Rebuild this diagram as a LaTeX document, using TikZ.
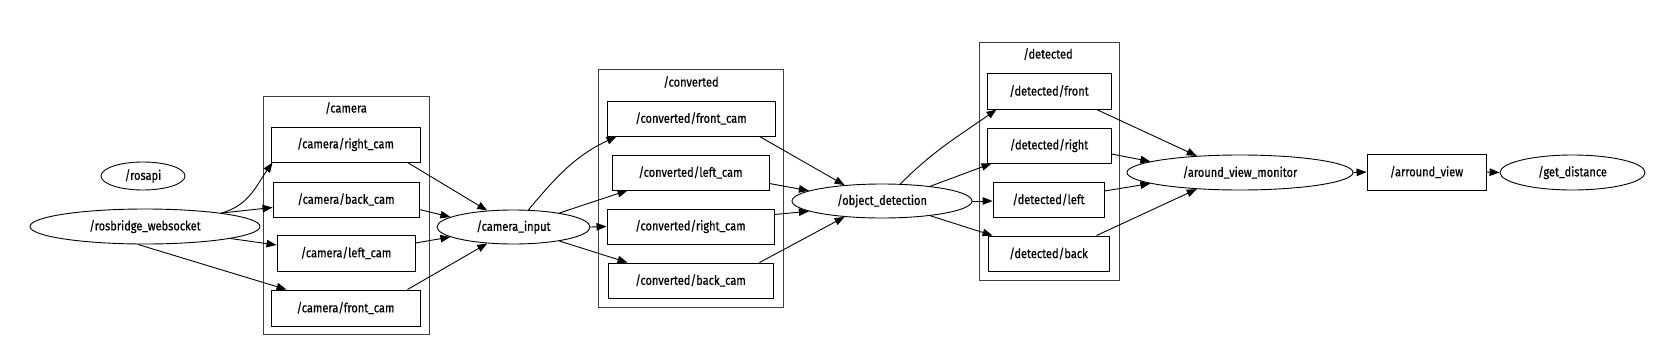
\documentclass[tikz,border=0pt]{standalone}
\usepackage{fontspec}
\setmainfont{Fira Sans}[FakeStretch=0.85,FakeBold=0.5]
\usetikzlibrary{arrows.meta,shapes.geometric}
\tikzset{
  base/.style={draw, line width=0.9pt, inner sep=0pt, font=\fontsize{13}{15}\selectfont},
  ell/.style={base, ellipse},
  rbox/.style={base, rectangle},
  clus/.style={draw=black!75, line width=0.8pt},
  clabel/.style={font=\fontsize{13}{15}\selectfont, inner sep=0pt},
  edge/.style={line width=0.9pt, -{Triangle[length=10pt,width=7.5pt]}},
}
\begin{document}
\begin{tikzpicture}[x=1pt,y=-1pt]
\useasboundingbox (0,0) rectangle (1667,351);
\fill[white] (0,0) rectangle (1667,351);
% clusters
\draw[clus] (263,96) rectangle (429,334);
\node[clabel] (lcam) at (346,108) {/camera};
\draw[clus] (598,69) rectangle (783,307);
\node[clabel] (lconv) at (691,82) {/converted};
\draw[clus] (979,42) rectangle (1119,280);
\node[clabel] (ldet) at (1048,54) {/detected};
% nodes
\node[ell, minimum width=84, minimum height=28] (rosapi) at (143,176) {/rosapi};
\node[ell, minimum width=230, minimum height=35] (rb) at (145,226.5) {/rosbridge\_websocket};
\node[rbox, minimum width=149, minimum height=35] (rc) at (345.5,144.5) {/camera/right\_cam};
\node[rbox, minimum width=146, minimum height=35] (bc) at (346,199.5) {/camera/back\_cam};
\node[rbox, minimum width=138, minimum height=36] (lc) at (346,253) {/camera/left\_cam};
\node[rbox, minimum width=149, minimum height=36] (fc) at (345.5,308) {/camera/front\_cam};
\node[ell, minimum width=153, minimum height=34] (ci) at (513.5,227) {/camera\_input};
\node[rbox, minimum width=168, minimum height=35] (cf) at (691,118.5) {/converted/front\_cam};
\node[rbox, minimum width=157, minimum height=35] (cl) at (690.5,172.5) {/converted/left\_cam};
\node[rbox, minimum width=167, minimum height=35] (cr) at (690.5,226.5) {/converted/right\_cam};
\node[rbox, minimum width=165, minimum height=35] (cb) at (690.5,280.5) {/converted/back\_cam};
\node[ell, minimum width=180, minimum height=34] (od) at (882,201) {/object\_detection};
\node[rbox, minimum width=124, minimum height=36] (df) at (1049,91) {/detected/front};
\node[rbox, minimum width=124, minimum height=35] (dr) at (1049,145.5) {/detected/right};
\node[rbox, minimum width=111, minimum height=35] (dl) at (1048.5,199.5) {/detected/left};
\node[rbox, minimum width=121, minimum height=35] (db) at (1048.5,253.5) {/detected/back};
\node[ell, minimum width=226, minimum height=35] (avm) at (1240,172.5) {/around\_view\_monitor};
\node[rbox, minimum width=119, minimum height=36] (av) at (1426.5,172) {/arround\_view};
\node[ell, minimum width=145, minimum height=35] (gd) at (1572.5,172.5) {/get\_distance};
% edges: rosbridge -> camera
\draw[edge] (rb.10) to[out=15,in=235] ([xshift=2pt]rc.south west);
\draw[edge] (rb.10) -- ([yshift=-8pt]bc.west);
\draw[edge] (rb.-8) -- ([yshift=8pt]lc.west);
\draw[edge] (rb.-112) -- ([xshift=16pt]fc.north west);
% camera -> camera_input
\draw[edge] ([xshift=-13pt]rc.south east) -- (ci.148);
\draw[edge] ([yshift=-10pt]bc.east) -- (ci.171);
\draw[edge] ([yshift=10pt]lc.east) -- (ci.189);
\draw[edge] ([xshift=-13pt]fc.north east) -- (ci.212);
% camera_input -> converted
\draw[edge] (ci.49) to[out=50,in=205] ([xshift=10pt]cf.south west);
\draw[edge] (ci.17) -- ([xshift=16pt]cl.south west);
\draw[edge] (ci.east) -- (cr.west);
\draw[edge] (ci.-17) -- ([xshift=20pt]cb.north west);
% converted -> object_detection
\draw[edge] ([xshift=-16pt]cf.south east) -- (od.157);
\draw[edge] ([yshift=-11pt]cl.east) -- (od.172);
\draw[edge] ([yshift=12pt]cr.east) -- (od.188);
\draw[edge] ([xshift=-14pt]cb.north east) -- (od.203);
% object_detection -> detected
\draw[edge] (od.43) to[out=45,in=215] ([xshift=10pt]df.south west);
\draw[edge] (od.17) -- ([xshift=5pt]dr.south west);
\draw[edge] (od.east) -- (od.east -| dl.west);
\draw[edge] (od.-17) -- ([xshift=5pt]db.north west);
% detected -> around_view_monitor
\draw[edge] ([xshift=-15pt]df.south east) -- (avm.159);
\draw[edge] ([yshift=-8.5pt]dr.east) -- (avm.173);
\draw[edge] ([yshift=8.5pt]dl.east) -- (avm.187);
\draw[edge] ([xshift=-13pt]db.north east) -- (avm.201);
% chain
\draw[edge] (avm.east) -- (av.west);
\draw[edge] (av.east) -- (gd.west);
\end{tikzpicture}
\end{document}
